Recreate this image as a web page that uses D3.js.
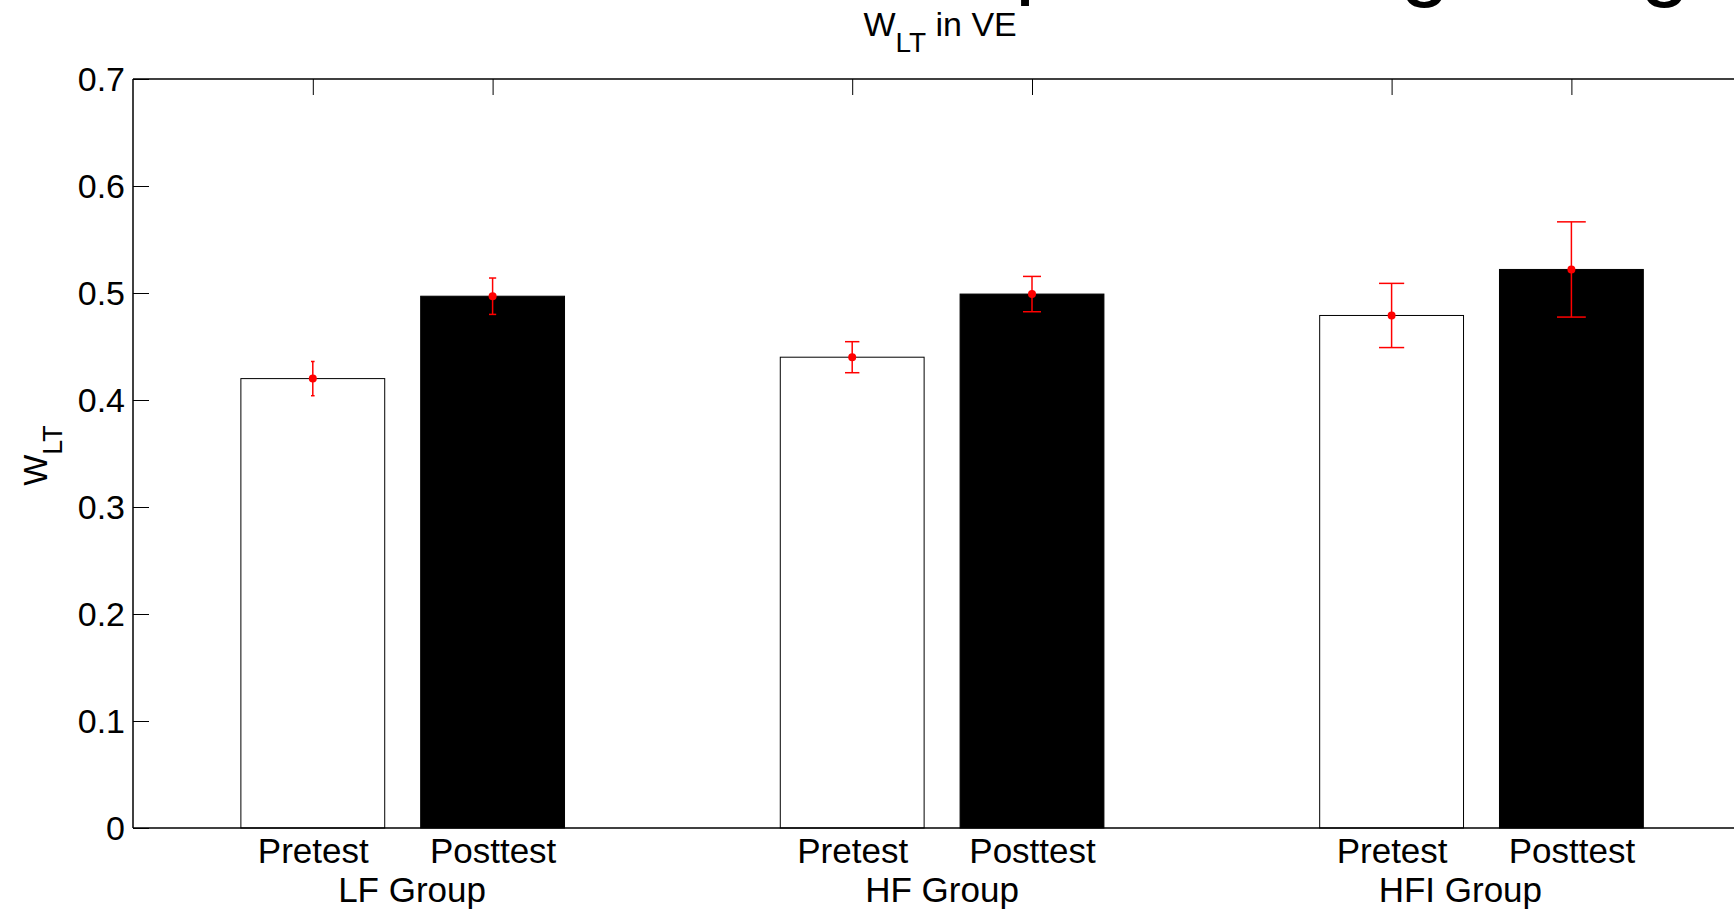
<!DOCTYPE html>
<html>
<head>
<meta charset="utf-8">
<script src="https://cdn.jsdelivr.net/npm/d3@7"></script>
<style>
  body { margin: 0; background: #fff; }
  svg { display: block; font-family: "Liberation Sans", Arial, sans-serif; }
</style>
</head>
<body>
<svg></svg>
<script>
var groups = ["LF Group", "HF Group", "HFI Group"];
var conditions = ["Pretest", "Posttest"];
var pretest = [0.420, 0.440, 0.479];
var posttest = [0.497, 0.499, 0.522];
var preErr = [0.016, 0.0145, 0.030];
var postErr = [0.017, 0.0165, 0.0445];
var yTicks = [0, 0.1, 0.2, 0.3, 0.4, 0.5, 0.6, 0.7];
var yTickLabels = ["0", "0.1", "0.2", "0.3", "0.4", "0.5", "0.6", "0.7"];

var w = 1734;
var h = 910;

var svg = d3.select("svg")
    .attr("width", w)
    .attr("height", h);

// bar positions 1 2 | 4 5 | 7 8 like a matlab bar call
var bars = [];
groups.forEach(function (g, i) {
    bars.push({ x: 1 + 3 * i, v: pretest[i], e: preErr[i], c: 0 });
    bars.push({ x: 2 + 3 * i, v: posttest[i], e: postErr[i], c: 1 });
});

var x = d3.scaleLinear().domain([0, 9]).range([133, 133 + 9 * 179.8]);
var y = d3.scaleLinear().domain([0, 0.7]).range([828, 79]);
var bw = 0.8;

// bits of the slide heading that sit above the figure
var head = svg.append("g").attr("font-size", 90).attr("fill", "#000").attr("text-anchor", "middle");
head.append("text").attr("x", 1040).attr("y", -13).text("p");
head.append("text").attr("x", 1425).attr("y", -11).text("g");
head.append("text").attr("x", 1665).attr("y", -11).text("g");

// axes
var yAxis = d3.axisLeft(y)
    .tickValues(yTicks)
    .tickFormat(function (d, i) { return yTickLabels[i]; })
    .tickSize(-16)
    .tickSizeOuter(0)
    .tickPadding(8);

var gy = svg.append("g")
    .attr("transform", "translate(" + x(0) + ",0)")
    .call(yAxis);
gy.selectAll("text").attr("font-size", 34).attr("font-family", null).attr("dy", "0.35em");
gy.select(".domain").remove();

var xAxis = d3.axisBottom(x)
    .tickValues(bars.map(function (d) { return d.x; }))
    .tickFormat(function (d, i) { return conditions[i % 2]; })
    .tickSize(-16)
    .tickSizeOuter(0)
    .tickPadding(10);

var gx = svg.append("g")
    .attr("transform", "translate(0," + y(0) + ")")
    .call(xAxis);
gx.selectAll("text").attr("font-size", 35).attr("font-family", null);
gx.select(".domain").remove();

var topAxis = d3.axisTop(x)
    .tickValues(bars.map(function (d) { return d.x; }))
    .tickFormat("")
    .tickSize(-16)
    .tickSizeOuter(0);

var gt = svg.append("g")
    .attr("transform", "translate(0," + y(0.7) + ")")
    .call(topAxis);
gt.select(".domain").remove();

// bars
svg.selectAll("rect.bar")
    .data(bars)
    .enter()
    .append("rect")
    .attr("class", "bar")
    .attr("x", function (d) { return x(d.x - bw / 2); })
    .attr("width", function (d) { return x(d.x + bw / 2) - x(d.x - bw / 2); })
    .attr("y", function (d) { return y(d.v); })
    .attr("height", function (d) { return y(0) - y(d.v); })
    .attr("fill", function (d) { return d.c ? "#000" : "#fff"; })
    .attr("stroke", "#000")
    .attr("stroke-width", 1);

// error bars, cap width grows with x (tee = x/100)
var eb = svg.selectAll("g.err")
    .data(bars)
    .enter()
    .append("g")
    .attr("class", "err")
    .attr("stroke", "#ff0000")
    .attr("stroke-width", 1.5);

eb.append("line")
    .attr("x1", function (d) { return x(d.x); })
    .attr("x2", function (d) { return x(d.x); })
    .attr("y1", function (d) { return y(d.v + d.e); })
    .attr("y2", function (d) { return y(d.v - d.e); });

[1, -1].forEach(function (s) {
    eb.append("line")
        .attr("x1", function (d) { return x(d.x - d.x / 100); })
        .attr("x2", function (d) { return x(d.x + d.x / 100); })
        .attr("y1", function (d) { return y(d.v + s * d.e); })
        .attr("y2", function (d) { return y(d.v + s * d.e); });
});

eb.append("circle")
    .attr("cx", function (d) { return x(d.x); })
    .attr("cy", function (d) { return y(d.v); })
    .attr("r", 4)
    .attr("fill", "#ff0000")
    .attr("stroke", "none");

// box
var box = svg.append("g").attr("stroke", "#000").attr("stroke-width", 1.5);
box.append("line").attr("x1", x(0)).attr("x2", w).attr("y1", y(0)).attr("y2", y(0));
box.append("line").attr("x1", x(0)).attr("x2", w).attr("y1", y(0.7)).attr("y2", y(0.7));
box.append("line").attr("x1", x(0)).attr("x2", x(0)).attr("y1", y(0)).attr("y2", y(0.7));

// title
var title = svg.append("text")
    .attr("x", (x(0) + x(9)) / 2 - 2)
    .attr("y", 36)
    .attr("text-anchor", "middle")
    .attr("font-size", 34);
title.append("tspan").text("W");
title.append("tspan").attr("font-size", 28).attr("dy", 16).text("LT");
title.append("tspan").attr("dy", -16).text(" in VE");

// y label
var ylab = svg.append("text")
    .attr("transform", "translate(47," + (y(0.35) + 2) + ") rotate(-90)")
    .attr("text-anchor", "middle")
    .attr("font-size", 33);
ylab.append("tspan").text("W");
ylab.append("tspan").attr("font-size", 27).attr("dy", 15).text("LT");

// group labels, one spaced out xlabel string
var pad1 = new Array(40).join(" ");
var pad2 = new Array(38).join(" ");
svg.append("text")
    .attr("x", (x(0) + x(9)) / 2 - 2)
    .attr("y", 902)
    .attr("text-anchor", "middle")
    .attr("font-size", 35)
    .attr("xml:space", "preserve")
    .style("white-space", "pre")
    .text(groups[0] + pad1 + groups[1] + pad2 + groups[2]);
</script>
</body>
</html>
